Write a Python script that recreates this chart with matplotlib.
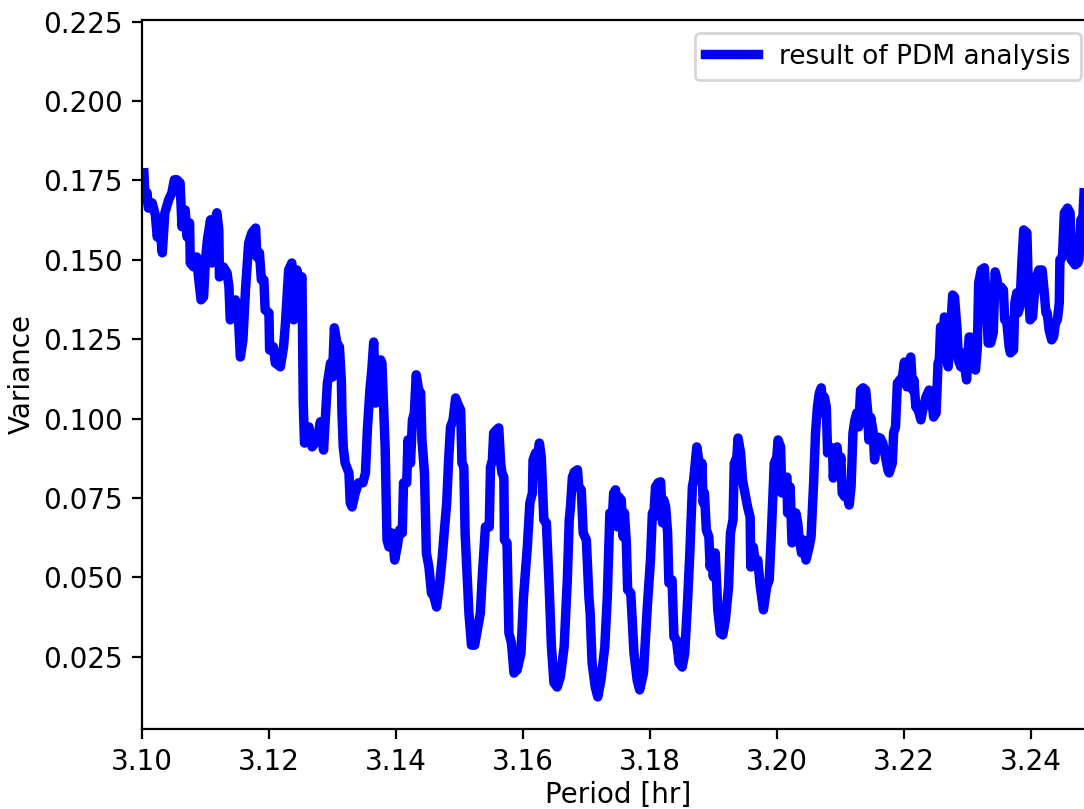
import matplotlib
matplotlib.use("Agg")
import matplotlib.pyplot as plt

# PDM periodogram: trial period [hr] vs. phase-binned variance
period = [
    3.1003, 3.1005, 3.1008, 3.1010, 3.1016, 3.1021, 3.1024, 3.1028, 3.1032, 3.1036,
    3.1042, 3.1047, 3.1051, 3.1055, 3.1060, 3.1063, 3.1068, 3.1071, 3.1075, 3.1076,
    3.1081, 3.1086, 3.1089, 3.1093, 3.1097, 3.1100, 3.1103, 3.1108, 3.1110, 3.1114,
    3.1118, 3.1121, 3.1122, 3.1128, 3.1134, 3.1137, 3.1139, 3.1144, 3.1147, 3.1151,
    3.1155, 3.1159, 3.1163, 3.1168, 3.1173, 3.1179, 3.1181, 3.1185, 3.1188, 3.1192,
    3.1194, 3.1200, 3.1201, 3.1207, 3.1210, 3.1218, 3.1223, 3.1226, 3.1231, 3.1236,
    3.1239, 3.1244, 3.1249, 3.1252, 3.1254, 3.1256, 3.1263, 3.1268, 3.1276, 3.1281,
    3.1286, 3.1292, 3.1297,
    3.1300, 3.1303, 3.1307, 3.1311, 3.1314, 3.1315, 3.1317, 3.1320, 3.1326, 3.1328,
    3.1331, 3.1336, 3.1341, 3.1348, 3.1352, 3.1355, 3.1359, 3.1362, 3.1365, 3.1368,
    3.1371, 3.1376, 3.1378, 3.1381, 3.1383, 3.1386, 3.1389, 3.1394, 3.1398, 3.1402,
    3.1406, 3.1410, 3.1412, 3.1417, 3.1419, 3.1423, 3.1426, 3.1429, 3.1432, 3.1436,
    3.1439, 3.1441, 3.1445, 3.1448, 3.1452, 3.1456, 3.1460, 3.1464, 3.1469, 3.1473,
    3.1476, 3.1480, 3.1483, 3.1486, 3.1490, 3.1494, 3.1497, 3.1502, 3.1504, 3.1507,
    3.1509, 3.1515, 3.1519, 3.1524, 3.1533, 3.1536, 3.1541, 3.1547, 3.1549, 3.1552,
    3.1554, 3.1558, 3.1562, 3.1565, 3.1567,
    3.1570, 3.1571, 3.1575, 3.1578, 3.1582, 3.1586, 3.1591, 3.1597, 3.1601, 3.1607,
    3.1611, 3.1615, 3.1616, 3.1620, 3.1623, 3.1626, 3.1629, 3.1630, 3.1633, 3.1637,
    3.1641, 3.1645, 3.1649, 3.1654, 3.1659, 3.1665, 3.1670, 3.1673, 3.1675, 3.1678,
    3.1681, 3.1686, 3.1688, 3.1692, 3.1695, 3.1700, 3.1704, 3.1706, 3.1709, 3.1714,
    3.1718, 3.1723, 3.1729, 3.1733, 3.1737, 3.1741, 3.1743, 3.1746, 3.1749, 3.1751,
    3.1755, 3.1758, 3.1760, 3.1763, 3.1765, 3.1770, 3.1775, 3.1780, 3.1784, 3.1790,
    3.1796, 3.1801, 3.1804, 3.1806, 3.1809, 3.1813, 3.1817, 3.1820, 3.1822, 3.1825,
    3.1828, 3.1830, 3.1835, 3.1838, 3.1842, 3.1846, 3.1851, 3.1855, 3.1859, 3.1863,
    3.1867, 3.1869, 3.1874,
    3.1877, 3.1880, 3.1882, 3.1884, 3.1886, 3.1889, 3.1893, 3.1895, 3.1898, 3.1900,
    3.1903, 3.1905, 3.1907, 3.1911, 3.1915, 3.1919, 3.1924, 3.1927, 3.1931, 3.1933,
    3.1937, 3.1939, 3.1943, 3.1946, 3.1948, 3.1954, 3.1958, 3.1959, 3.1963, 3.1967,
    3.1970, 3.1974, 3.1979, 3.1984, 3.1988, 3.1991, 3.1996, 3.2000, 3.2002, 3.2006,
    3.2008, 3.2011, 3.2016, 3.2017, 3.2021, 3.2024, 3.2027, 3.2030, 3.2033, 3.2035,
    3.2039, 3.2042, 3.2046, 3.2051, 3.2054, 3.2058, 3.2061, 3.2064, 3.2067, 3.2070,
    3.2073, 3.2075, 3.2078, 3.2080, 3.2084, 3.2088, 3.2089, 3.2093, 3.2095, 3.2098,
    3.2101, 3.2103, 3.2107, 3.2110, 3.2114, 3.2117, 3.2120, 3.2123, 3.2126, 3.2129,
    3.2132, 3.2136, 3.2140,
    3.2143, 3.2145, 3.2148, 3.2152, 3.2154, 3.2158, 3.2163, 3.2167, 3.2170, 3.2175,
    3.2177, 3.2182, 3.2184, 3.2187, 3.2190, 3.2194, 3.2198, 3.2201, 3.2205, 3.2207,
    3.2211, 3.2214, 3.2216, 3.2219, 3.2223, 3.2227, 3.2230, 3.2235, 3.2240, 3.2243,
    3.2247, 3.2251, 3.2254, 3.2256, 3.2258, 3.2262, 3.2264, 3.2267, 3.2268, 3.2270,
    3.2273, 3.2277, 3.2280, 3.2284, 3.2286, 3.2290, 3.2292, 3.2296, 3.2299, 3.2303,
    3.2305, 3.2308, 3.2313, 3.2316, 3.2318, 3.2322, 3.2327, 3.2331, 3.2333, 3.2337,
    3.2341, 3.2344, 3.2347, 3.2349, 3.2353, 3.2357, 3.2359, 3.2362, 3.2366, 3.2368,
    3.2373, 3.2375, 3.2378, 3.2380, 3.2383, 3.2386, 3.2389, 3.2394, 3.2396, 3.2399,
    3.2403, 3.2405, 3.2409, 3.2413, 3.2418, 3.2421, 3.2424, 3.2426, 3.2429, 3.2433,
    3.2436, 3.2439, 3.2442, 3.2445, 3.2446, 3.2450, 3.2453, 3.2458, 3.2462, 3.2464,
    3.2470, 3.2474, 3.2476, 3.2479, 3.2482, 3.2484,
]

variance = [
    0.1774, 0.1689, 0.1711, 0.1663, 0.1679, 0.1641, 0.1572, 0.1604, 0.1522, 0.1648,
    0.1689, 0.1711, 0.1752, 0.1752, 0.1742, 0.1604, 0.1657, 0.1572, 0.1616, 0.1490,
    0.1478, 0.1509, 0.1446, 0.1374, 0.1383, 0.1500, 0.1563, 0.1626, 0.1490, 0.1616,
    0.1648, 0.1594, 0.1446, 0.1478, 0.1459, 0.1415, 0.1311, 0.1320, 0.1374, 0.1352,
    0.1194, 0.1248, 0.1405, 0.1553, 0.1585, 0.1600, 0.1509, 0.1522, 0.1437, 0.1437,
    0.1342, 0.1333, 0.1216, 0.1226, 0.1175, 0.1163, 0.1226, 0.1301, 0.1468, 0.1490,
    0.1311, 0.1468, 0.1427, 0.1446, 0.1049, 0.0923, 0.0974, 0.0911, 0.0933, 0.0990,
    0.0901, 0.1112, 0.1175,
    0.1131, 0.1286, 0.1238, 0.1226, 0.1122, 0.1018, 0.0911, 0.0860, 0.0829, 0.0735,
    0.0722, 0.0766, 0.0798, 0.0798, 0.0829, 0.0964, 0.1090, 0.1153, 0.1241, 0.1049,
    0.1059, 0.1185, 0.1175, 0.1018, 0.0911, 0.0618, 0.0596, 0.0640, 0.0555, 0.0596,
    0.0650, 0.0640, 0.0798, 0.0798, 0.0933, 0.0860, 0.0996, 0.1018, 0.1138, 0.1090,
    0.1081, 0.0933, 0.0829, 0.0577, 0.0533, 0.0451, 0.0439, 0.0407, 0.0483, 0.0565,
    0.0640, 0.0735, 0.0870, 0.0974, 0.0996, 0.1065, 0.1049, 0.1027, 0.0860, 0.0848,
    0.0640, 0.0388, 0.0287, 0.0287, 0.0388, 0.0502, 0.0659, 0.0659, 0.0848, 0.0870,
    0.0955, 0.0964, 0.0971, 0.0860, 0.0829,
    0.0816, 0.0618, 0.0609, 0.0325, 0.0294, 0.0199, 0.0209, 0.0262, 0.0439, 0.0596,
    0.0735, 0.0766, 0.0870, 0.0892, 0.0879, 0.0923, 0.0879, 0.0829, 0.0681, 0.0672,
    0.0492, 0.0281, 0.0168, 0.0155, 0.0187, 0.0281, 0.0492, 0.0681, 0.0722, 0.0816,
    0.0832, 0.0839, 0.0785, 0.0776, 0.0640, 0.0618, 0.0439, 0.0388, 0.0231, 0.0155,
    0.0124, 0.0177, 0.0281, 0.0439, 0.0703, 0.0690, 0.0766, 0.0776, 0.0659, 0.0754,
    0.0744, 0.0628, 0.0703, 0.0609, 0.0461, 0.0451, 0.0262, 0.0177, 0.0146, 0.0199,
    0.0407, 0.0555, 0.0703, 0.0690, 0.0785, 0.0798, 0.0801, 0.0672, 0.0744, 0.0722,
    0.0640, 0.0483, 0.0492, 0.0313, 0.0303, 0.0231, 0.0218, 0.0262, 0.0407, 0.0577,
    0.0785, 0.0807, 0.0911,
    0.0870, 0.0807, 0.0860, 0.0735, 0.0766, 0.0650, 0.0628, 0.0533, 0.0577, 0.0502,
    0.0577, 0.0492, 0.0398, 0.0325, 0.0319, 0.0366, 0.0470, 0.0640, 0.0681, 0.0860,
    0.0879, 0.0939, 0.0892, 0.0807, 0.0785, 0.0722, 0.0690, 0.0533, 0.0596, 0.0533,
    0.0555, 0.0470, 0.0398, 0.0470, 0.0492, 0.0618, 0.0860, 0.0879, 0.0933, 0.0911,
    0.0766, 0.0807, 0.0816, 0.0703, 0.0785, 0.0609, 0.0618, 0.0703, 0.0672, 0.0628,
    0.0577, 0.0618, 0.0555, 0.0596, 0.0628, 0.0798, 0.0955, 0.1037, 0.1081, 0.1097,
    0.1018, 0.1068, 0.1037, 0.0892, 0.0911, 0.0892, 0.0813, 0.0901, 0.0911, 0.0829,
    0.0879, 0.0766, 0.0754, 0.0776, 0.0728, 0.0785, 0.0955, 0.0996, 0.1018, 0.0974,
    0.1090, 0.1097, 0.1090,
    0.1027, 0.0933, 0.1004, 0.0955, 0.0870, 0.0942, 0.0939, 0.0923, 0.0892, 0.0839,
    0.0829, 0.0860, 0.0955, 0.0974, 0.1112, 0.1122, 0.1131, 0.1178, 0.1100, 0.1163,
    0.1194, 0.1090, 0.1122, 0.1037, 0.1027, 0.0996, 0.1027, 0.1068, 0.1090, 0.1081,
    0.1005, 0.1018, 0.1175, 0.1185, 0.1289, 0.1257, 0.1320, 0.1311, 0.1226, 0.1163,
    0.1248, 0.1389, 0.1383, 0.1279, 0.1185, 0.1163, 0.1207, 0.1163, 0.1122, 0.1257,
    0.1257, 0.1207, 0.1153, 0.1226, 0.1427, 0.1468, 0.1475, 0.1333, 0.1238, 0.1238,
    0.1270, 0.1462, 0.1437, 0.1405, 0.1415, 0.1405, 0.1311, 0.1311, 0.1226, 0.1207,
    0.1216, 0.1364, 0.1396, 0.1333, 0.1352, 0.1490, 0.1594, 0.1585, 0.1437, 0.1311,
    0.1320, 0.1374, 0.1446, 0.1468, 0.1468, 0.1405, 0.1333, 0.1333, 0.1279, 0.1248,
    0.1257, 0.1301, 0.1311, 0.1364, 0.1500, 0.1509, 0.1648, 0.1663, 0.1648, 0.1500,
    0.1484, 0.1490, 0.1500, 0.1626, 0.1626, 0.1711,
]

fig = plt.figure(figsize=(5.42, 4.045), dpi=200)
ax = fig.add_axes([0.131, 0.0989, 0.8784, 0.8764])

ax.plot(period, variance, color="blue", linewidth=3.4, label="result of PDM analysis")

ax.set_xlim(3.10, 3.25)
ax.set_ylim(0.0023, 0.2255)
ax.set_xticks([3.10, 3.12, 3.14, 3.16, 3.18, 3.20, 3.22, 3.24])
ax.set_yticks([0.025, 0.050, 0.075, 0.100, 0.125, 0.150, 0.175, 0.200, 0.225])
ax.xaxis.set_major_formatter(matplotlib.ticker.FormatStrFormatter("%.2f"))
ax.yaxis.set_major_formatter(matplotlib.ticker.FormatStrFormatter("%.3f"))

ax.set_xlabel("Period [hr]", labelpad=1.5)
ax.set_ylabel("Variance", labelpad=2.5)
ax.legend(loc="upper right", fontsize=9.5)

fig.savefig("out.png", dpi=200)
